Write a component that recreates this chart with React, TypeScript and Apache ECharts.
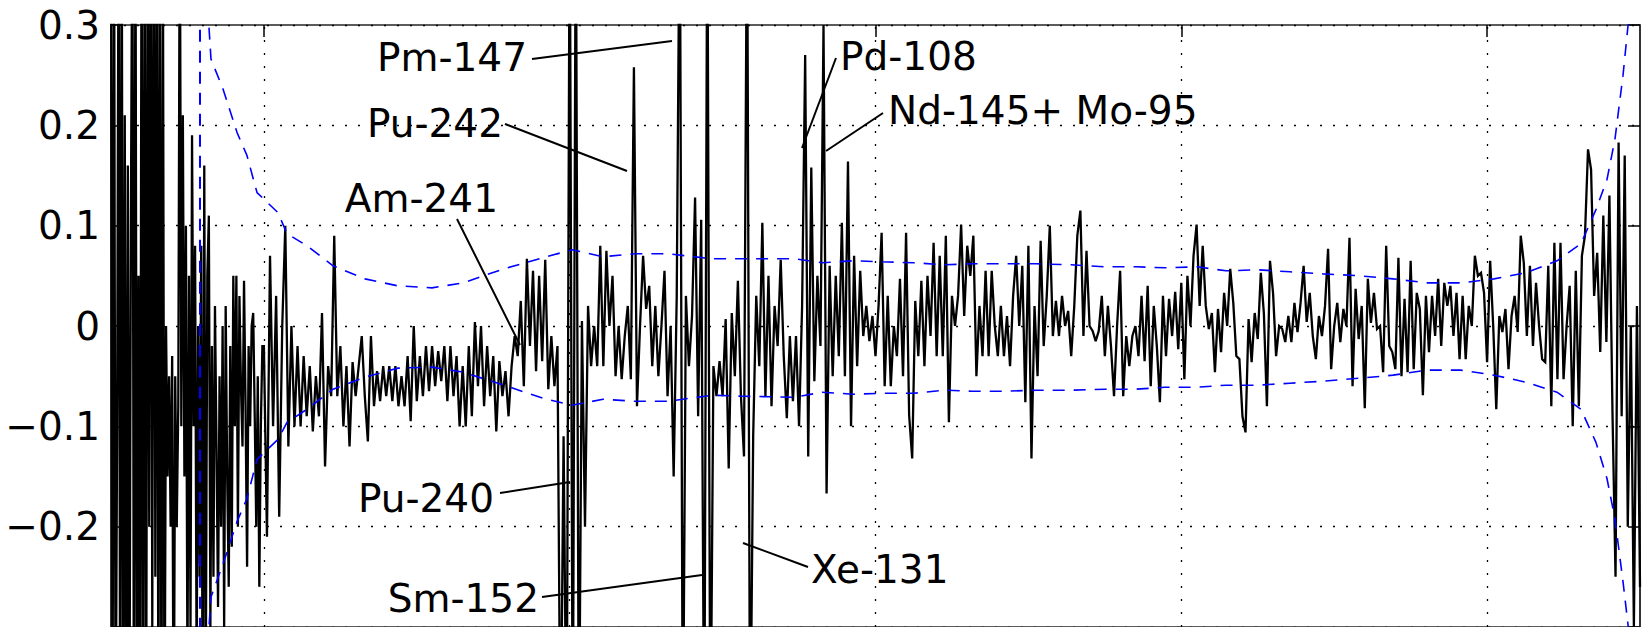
import React, { useEffect, useRef } from "react";
import * as echarts from "echarts";

// Left, strongly oscillating part: one value per x-unit (x = 0..99)
const residLeft = [
  0.45, -0.45, 0.45, -0.45, -0.1, 0.45, -0.45, 0.45, -0.45, 0.21,
  -0.45, 0.16, -0.45, 0.1, 0.45, -0.45, 0.45, -0.45, 0.05, -0.45,
  0.45, -0.45, 0.45, -0.45, 0.45, -0.2, 0.45, -0.3, 0.45, -0.25,
  0.45, -0.45, 0.45, -0.45, 0.35, -0.45, 0.0, -0.15, -0.05, -0.2,
  -0.03, -0.45, -0.05, -0.2, -0.08, 0.45, -0.1, 0.21, -0.15, 0.1,
  -0.35, 0.05, -0.3, 0.19, -0.1, 0.08, -0.35, 0.0, -0.25, 0.08,
  -0.45, 0.16, -0.35, 0.05, 0.11, -0.3, -0.02, -0.25, 0.02, -0.12,
  -0.28, -0.05, -0.2, 0.0, -0.3, 0.02, -0.15, -0.26, -0.02, -0.22,
  0.05, -0.1, 0.05, -0.2, 0.03, -0.06, -0.12, 0.045, -0.08, -0.24,
  -0.02, -0.1, 0.0, 0.013, -0.09, -0.2, -0.05, -0.26, -0.1, -0.02,
];
const leftStep = 1;

// Remaining residual values, one every 2 x-units from x = 100 to x = 1000
const residB = [
  -0.02, -0.21, 0.07, -0.1, 0.03, -0.19, 0.0, 0.1, -0.12, 0.0,
  -0.1, -0.02, -0.1, -0.03, -0.09, -0.04, -0.105, -0.05, -0.09, 0.013,
  -0.14, -0.04, -0.07, 0.09, -0.07, -0.02, -0.1, -0.04, -0.12, -0.036,
  -0.07, -0.04, -0.01, -0.07,
];
const residC = [
  -0.115, -0.01, -0.08, -0.045, -0.075, -0.04, -0.07, -0.04, -0.075, -0.04, -0.08,
  -0.05, -0.08, -0.03, -0.095, 0.0, -0.075, -0.03, -0.07, -0.02, -0.065,
  -0.02, -0.06, -0.025, -0.055, -0.02, -0.075, -0.02, -0.07, -0.03, -0.1,
  -0.04, -0.1, -0.02, -0.09, 0.004, -0.06, 0.0, -0.08, -0.02, -0.07,
  -0.03, -0.105, -0.035, -0.07, -0.045, -0.09, -0.04, -0.01, -0.03, 0.025,
  -0.06, 0.067, -0.02, 0.055, -0.045, 0.05, -0.035, 0.066, -0.063, -0.01,
  -0.06, -0.02, -0.45, -0.11, -0.45, 0.45, -0.45, 0.45, -0.45, 0.005,
  -0.2, 0.02, -0.04, 0.0, -0.04, 0.08, -0.04, 0.075, 0.0, 0.05,
  -0.05, 0.0, -0.053,
];
const residD = [
  -0.01, 0.02, -0.053, 0.258, -0.08, 0.0, 0.07, 0.017, 0.04, -0.04,
  0.02, -0.05, 0.0, 0.055, -0.07, 0.0, -0.15, 0.03, 0.45, -0.45,
  0.03, -0.04, 0.01, 0.128, -0.09, 0.106, -0.45, 0.45, -0.45, -0.04,
  -0.07, -0.035, -0.07, 0.007, -0.142, 0.013, -0.05, 0.045, -0.07, -0.13,
  0.45, -0.45, -0.11, 0.03, -0.04, 0.103, -0.07, 0.05, -0.08, 0.02,
  -0.02, 0.066, -0.03, -0.092, -0.01, -0.075, -0.01, -0.1, 0.02, 0.27,
  -0.13, 0.158, -0.055, 0.05, -0.02, 0.3, -0.167, 0.06, -0.05, 0.05,
  -0.03, 0.103, -0.05, 0.164, -0.1, 0.07, -0.04, 0.055, -0.01, 0.02,
  -0.015, 0.01, -0.03,
];
const residE = [
  0.02, 0.093, -0.06, 0.03, -0.06, 0.0, -0.03, 0.047, -0.05, 0.093,
  -0.089, -0.132, 0.025, -0.03, 0.045, -0.04, 0.05, -0.01, 0.083, -0.03,
  0.07, -0.03, 0.09, -0.096, 0.03, 0.0, 0.03, 0.101, 0.01, 0.08,
  0.05, 0.09, -0.05, 0.02, -0.03, 0.055, -0.03, 0.055, 0.0, -0.03,
  0.02, -0.03, 0.01, -0.04, 0.03, 0.07, 0.0, 0.06, -0.076, 0.08,
  -0.132, 0.02, -0.05, 0.085, -0.02, 0.03, 0.1, -0.01, 0.025, -0.01,
  0.03, 0.0, 0.015, -0.03, 0.02, 0.09, 0.115, -0.01, 0.075, 0.0,
  -0.005, -0.015, -0.005, 0.03, -0.03, 0.02, -0.02, -0.07, 0.0, 0.055,
  -0.07, -0.01, -0.04, -0.01, 0.0,
];
const residF = [
  -0.03, 0.03, -0.035, 0.04, -0.06, 0.02, -0.02, -0.076, 0.03, -0.03,
  0.027, -0.01, 0.034, -0.023, 0.043, -0.053, 0.05, 0.0, 0.07, 0.101,
  0.02, 0.08, 0.02, -0.003, 0.013, -0.046, 0.017, -0.026, 0.033, 0.0,
  0.057, 0.023, -0.03, -0.033, -0.09, -0.106, 0.007, -0.036, 0.013, -0.013,
  0.053, 0.013, -0.08, 0.065, 0.033, -0.03, 0.0, -0.003, -0.016, 0.01,
  -0.016, 0.023, -0.006, 0.023, 0.06, 0.004, 0.033, -0.01, -0.033, 0.01,
  -0.01, 0.02, 0.077, -0.043, 0.0, 0.023, -0.016, 0.017, 0.0, 0.088,
  -0.06, 0.037, -0.013, 0.02, -0.082, 0.047, 0.003, 0.033, -0.003, 0.0,
  -0.046, 0.08, -0.02,
];
const residG = [
  -0.026, -0.043, 0.068, -0.05, 0.027, -0.046, 0.065, -0.043, 0.033, 0.017,
  -0.069, 0.03, -0.026, 0.03, -0.01, 0.047, -0.02, 0.043, 0.02, 0.04,
  -0.01, 0.033, -0.033, 0.03, -0.033, 0.02, 0.0, 0.07, 0.05, 0.053,
  0.033, -0.036, 0.065, 0.0, -0.083, 0.01, -0.006, 0.017, -0.043, 0.01,
  0.03, -0.006, 0.09, 0.063, -0.01, 0.06, -0.02, 0.043, 0.0, -0.033,
  -0.036, 0.06, -0.08, 0.083, -0.053, 0.083, -0.053, 0.0, 0.04, -0.1,
  0.055, -0.08, 0.07, 0.09, 0.176, 0.156, 0.03, 0.073, -0.026, 0.11,
  -0.016, 0.13, -0.086, -0.25, 0.183, -0.09, 0.17, -0.2, 0.0, -0.3,
  0.02, -0.26,
];
const residMain = [...residB, ...residC, ...residD, ...residE, ...residF, ...residG];
const mainStart = 100;
const mainStep = 2;

// Confidence band (blue dashed)
const boundX = [
  61.5, 65.4, 73.3, 82.4, 88.9, 95.5, 109.2, 115.1, 128.2, 145.2,
  166.1, 187.7, 209.9, 230.2, 257.0, 282.5, 301.5, 321.8, 342.7, 364.3,
  393.1, 413.3, 447.3, 465.0, 485.3, 504.2, 525.2, 545.5, 563.1, 585.3,
  605.0, 627.9, 650.1, 670.4, 689.3, 710.3, 729.2, 750.2, 771.1, 792.7,
  816.9, 838.5, 860.7, 882.9, 904.5, 925.4, 945.7, 961.4, 971.2, 978.4,
  983.6, 988.9, 992.2, 995.4,
];
const upperBound = [
  0.36, 0.266, 0.236, 0.193, 0.17, 0.133, 0.113, 0.092, 0.08, 0.06,
  0.047, 0.04, 0.038, 0.043, 0.057, 0.068, 0.076, 0.069, 0.072, 0.072,
  0.067, 0.067, 0.067, 0.063, 0.065, 0.064, 0.063, 0.061, 0.062, 0.062,
  0.062, 0.061, 0.059, 0.059, 0.058, 0.059, 0.055, 0.056, 0.054, 0.052,
  0.05, 0.047, 0.043, 0.043, 0.047, 0.053, 0.065, 0.082, 0.116, 0.146,
  0.186, 0.25, 0.3, 0.36,
];
const lowerBound = [
  -0.36, -0.27, -0.237, -0.195, -0.172, -0.133, -0.113, -0.096, -0.083, -0.063,
  -0.051, -0.042, -0.041, -0.046, -0.059, -0.072, -0.079, -0.073, -0.075, -0.075,
  -0.069, -0.07, -0.071, -0.066, -0.068, -0.067, -0.067, -0.064, -0.065, -0.065,
  -0.064, -0.064, -0.063, -0.063, -0.061, -0.061, -0.059, -0.059, -0.057, -0.055,
  -0.052, -0.049, -0.044, -0.044, -0.049, -0.056, -0.066, -0.083, -0.116, -0.152,
  -0.192, -0.255, -0.298, -0.37,
];
const bandEdgeX = 58.2;

const gridXs = [100, 300, 500, 700, 900];

const nuclideLabels = ["Pm-147", "Pu-242", "Am-241", "Pu-240", "Sm-152", "Xe-131", "Pd-108", "Nd-145+ Mo-95"];

// annotation layout (pixels): text anchor and leader line
const labelLayout = [
  { x: 527, y: 57, align: "right", line: [532, 59, 672, 41] },
  { x: 503, y: 123, align: "right", line: [505, 124, 627, 171] },
  { x: 498, y: 198, align: "right", line: [457, 219, 520, 345] },
  { x: 494, y: 498, align: "right", line: [500, 493, 570, 482] },
  { x: 539, y: 598, align: "right", line: [542, 597, 702, 575] },
  { x: 811, y: 569, align: "left", line: [743, 543, 808, 567] },
  { x: 840, y: 56, align: "left", line: [836, 58, 802, 148] },
  { x: 888, y: 110, align: "left", line: [883, 113, 826, 151] },
];

const FONT = "DejaVu Sans";

function fmtY(v: number) {
  const r = Math.round(v * 10) / 10;
  if (r < -0.25) return "";
  if (r === 0) return "0";
  return r < 0 ? "\u2212" + Math.abs(r).toFixed(1) : r.toFixed(1);
}

export default function App() {
  const ref = useRef<HTMLDivElement>(null);
  useEffect(() => {
    if (!ref.current) return;
    const chart = echarts.init(ref.current, undefined, { renderer: "svg" });
    const graphics: any[] = [];
    nuclideLabels.forEach((t, i) => {
      const L = labelLayout[i];
      graphics.push({
        type: "line",
        z: 100,
        shape: { x1: L.line[0], y1: L.line[1], x2: L.line[2], y2: L.line[3] },
        style: { stroke: "#000", lineWidth: 2 },
      });
      graphics.push({
        type: "text",
        z: 101,
        x: L.x,
        y: L.y,
        style: {
          text: t,
          fontSize: 39,
          fontFamily: FONT,
          fill: "#000",
          align: L.align,
          verticalAlign: "middle",
        },
      });
    });
    const residualData = [
      ...residLeft.map((v, k) => [k * leftStep, v]),
      ...residMain.map((v, i) => [mainStart + i * mainStep, v]),
    ];
    chart.setOption({
      animation: false,
      backgroundColor: "#fff",
      grid: {
        left: 111,
        top: 25,
        width: 1529,
        height: 604,
        show: true,
        borderColor: "#262626",
        borderWidth: 1.5,
        backgroundColor: "transparent",
      },
      xAxis: {
        type: "value",
        min: 0,
        max: 1000,
        axisLine: { show: false },
        axisTick: { show: false },
        axisLabel: { show: false },
        splitLine: { show: false },
      },
      yAxis: [
        {
          type: "value",
          min: -0.3,
          max: 0.3,
          interval: 0.1,
          axisLine: { show: true, lineStyle: { color: "#262626", width: 1.5 } },
          axisTick: { show: true, inside: true, length: 10, lineStyle: { color: "#000", width: 1.5 } },
          axisLabel: {
            formatter: fmtY,
            fontSize: 39,
            fontFamily: FONT,
            color: "#000",
            margin: 11,
          },
          splitLine: { show: true, lineStyle: { color: "#000", type: [2, 11], width: 1.3 } },
        },
        {
          type: "value",
          position: "right",
          min: -0.3,
          max: 0.3,
          interval: 0.1,
          axisLine: { show: true, lineStyle: { color: "#262626", width: 1.5 } },
          axisTick: { show: true, inside: true, length: 12, lineStyle: { color: "#000", width: 1.5 } },
          axisLabel: { show: false },
          splitLine: { show: false },
        },
      ],
      series: [
        {
          type: "line",
          data: [],
          z: 1,
          silent: true,
          markLine: {
            symbol: "none",
            silent: true,
            label: { show: false },
            lineStyle: { color: "#000", type: [2, 11], width: 1.3 },
            data: gridXs.map((x) => ({ xAxis: x })),
          },
        },
        {
          type: "line",
          data: [],
          z: 1,
          silent: true,
          markLine: {
            symbol: "none",
            silent: true,
            label: { show: false },
            lineStyle: { color: "#000", type: "solid", width: 1.5 },
            data: gridXs.map((x) => [{ coord: [x, 0.3] }, { coord: [x, 0.288] }]),
          },
        },
        {
          type: "line",
          name: "residual",
          z: 2,
          showSymbol: false,
          silent: true,
          data: residualData,
          lineStyle: { color: "#000", width: 2.3, join: "miter", miterLimit: 3 },
        },
        {
          type: "line",
          name: "upper",
          z: 3,
          showSymbol: false,
          silent: true,
          data: boundX.map((x, i) => [x, upperBound[i]]),
          lineStyle: { color: "#0000ff", width: 1.6, type: [12, 9] },
        },
        {
          type: "line",
          name: "lower",
          z: 3,
          showSymbol: false,
          silent: true,
          data: boundX.map((x, i) => [x, lowerBound[i]]),
          lineStyle: { color: "#0000ff", width: 1.6, type: [12, 9] },
        },
        {
          type: "line",
          name: "edge",
          z: 3,
          showSymbol: false,
          silent: true,
          data: [
            [bandEdgeX, 0.4],
            [bandEdgeX, -0.4],
          ],
          lineStyle: { color: "#0000ff", width: 2, type: [12, 9] },
        },
      ],
      graphic: graphics,
    });
    return () => chart.dispose();
  }, []);
  return (
    <div
      ref={ref}
      style={{ position: "absolute", left: 0, top: 0, width: "1647px", height: "627px", background: "#fff" }}
    />
  );
}
